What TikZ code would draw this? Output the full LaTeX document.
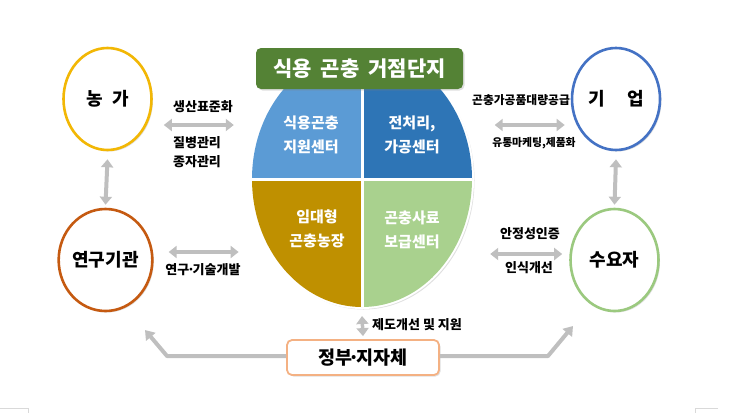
\documentclass[tikz,border=0pt]{standalone}
\usepackage{fontspec}
\setmainfont{Noto Sans CJK KR}
\usetikzlibrary{shapes.geometric,arrows.meta,shadows,positioning}
\definecolor{farmring}{HTML}{F2B705}
\definecolor{labring}{HTML}{C55A11}
\definecolor{firmring}{HTML}{4472C4}
\definecolor{userring}{HTML}{9BC97F}
\definecolor{titlegreen}{HTML}{548235}
\definecolor{qblue}{HTML}{5B9BD5}
\definecolor{qdeep}{HTML}{2E75B6}
\definecolor{qgold}{HTML}{BF9000}
\definecolor{qlime}{HTML}{A9D18E}
\definecolor{govring}{HTML}{F4B183}
\definecolor{arrgray}{HTML}{BFBFBF}
\newcommand{\tightdot}{\kern-0.18em·\kern-0.18em}
\tikzset{
  softshadow/.style={drop shadow={opacity=0.25, shadow xshift=1.5pt, shadow yshift=-1.5pt}},
  actor/.style={ellipse, draw, line width=2.6pt, fill=white, minimum width=88pt,
    minimum height=102pt, inner sep=0pt, softshadow,
    font=\bfseries\fontsize{18}{20}\selectfont},
  dbl/.style={draw=arrgray, line width=4pt,
    {Triangle[length=8pt,width=12pt]}-{Triangle[length=8pt,width=12pt]}},
  sgl/.style={draw=arrgray, line width=4pt, line join=round,
    -{Triangle[length=9pt,width=12pt]}},
  lbl/.style={font=\bfseries\fontsize{13}{19}\selectfont, align=center, inner sep=0pt},
  quadtext/.style={text=white, font=\bfseries\fontsize{15}{24}\selectfont,
    align=center, inner sep=0pt}
}
\begin{document}
\begin{tikzpicture}[x=1pt,y=-1pt]
  \useasboundingbox (0,0) rectangle (730,413);
  % Hub ellipse
  \node[ellipse, draw=white, line width=2pt, fill=white, softshadow,
    minimum width=222pt, minimum height=258pt, inner sep=0pt] (hub) at (362,179) {};
  \begin{scope}
    \clip (362,179) ellipse [x radius=110pt, y radius=128pt];
    \fill[qblue] (250,50) rectangle (362,179);
    \fill[qdeep] (362,50) rectangle (474,179);
    \fill[qgold] (250,179) rectangle (362,310);
    \fill[qlime] (362,179) rectangle (474,310);
    \draw[white, line width=3pt] (362,45) -- (362,312);
    \draw[white, line width=3pt] (248,179) -- (476,179);
  \end{scope}
  \node[quadtext] (qtl) at (311,135) {식용곤충\\지원센터};
  \node[quadtext] (qtr) at (412,135) {전처리,\\가공센터};
  \node[quadtext] (qbl) at (317,229) {임대형\\곤충농장};
  \node[quadtext] (qbr) at (412,230) {곤충사료\\보급센터};
  % Title
  \node[fill=titlegreen, rounded corners=5pt, minimum width=207pt, minimum height=41pt,
    inner sep=0pt, softshadow, text=white, font=\bfseries\fontsize{21}{24}\selectfont]
    (title) at (359.5,68.5) {식용\hspace{9pt}곤충\hspace{9pt}거점단지};
  % Actors
  \node[actor, draw=farmring] (farm) at (107.5,99) {농\hspace{9pt}가};
  \node[actor, draw=labring] (lab) at (105.5,260) {연구기관};
  \node[actor, draw=firmring] (firm) at (616,99) {기\hspace{22pt}업};
  \node[actor, draw=userring] (user) at (614.5,260) {수요자};
  \node[draw=govring, line width=1.8pt, fill=white, rounded corners=5pt,
    minimum width=152pt, minimum height=35pt, inner sep=0pt, softshadow,
    font=\bfseries\fontsize{18.5}{20}\selectfont] (gov) at (363,357.5) {정부\tightdot 지자체};
  % Side arrows
  \draw[dbl] ([shift={(11,26)}]farm.east) -- ++(70,0);
  \node[lbl] (std) at (203,107) {생산표준화};
  \node[lbl] (seed) at (197,152) {질병관리\\종자관리};
  \draw[dbl] ([shift={(-6,26)}]firm.west) -- ++(-70,0);
  \node[lbl, font=\bfseries\fontsize{11.8}{13}\selectfont] (supply) at (521,100) {곤충가공품대량공급};
  \node[lbl, font=\bfseries\fontsize{10.8}{13}\selectfont] (market) at (534,143) {유통마케팅,제품화};
  \draw[dbl] ([shift={(15,-8)}]lab.east) -- ++(70,0);
  \node[lbl] (rnd) at (203,270) {연구\tightdot 기술개발};
  \draw[dbl] ([shift={(-7,-6)}]user.west) -- ++(-72,0);
  \node[lbl] (cert) at (530,234) {안정성인증};
  \node[lbl] (aware) at (529,268) {인식개선};
  % Vertical arrows
  \draw[dbl] ([yshift=-8pt]farm.south) -- ([yshift=3pt]lab.north);
  \draw[dbl] ([yshift=-8pt]firm.south) -- ([yshift=3pt]user.north);
  \draw[dbl, line width=3.5pt] ([yshift=-7pt]hub.south) -- ([yshift=3pt]gov.north);
  \node[lbl, anchor=west] (policy) at (372,325) {제도개선 및 지원};
  % Government arrows
  \coordinate (bendL) at (167,356);
  \coordinate (tipL) at (145,330);
  \coordinate (bendR) at (548,356);
  \coordinate (tipR) at (573,326);
  \draw[sgl] (gov.west |- bendL) -- (bendL) -- (tipL);
  \draw[sgl] (gov.east |- bendR) -- (bendR) -- (tipR);
  % Corner marks
  \draw[black!15] (0,408) -- (28,408) -- (28,413);
  \draw[black!15] (718,408) -- (695,408) -- (695,413);
\end{tikzpicture}
\end{document}
